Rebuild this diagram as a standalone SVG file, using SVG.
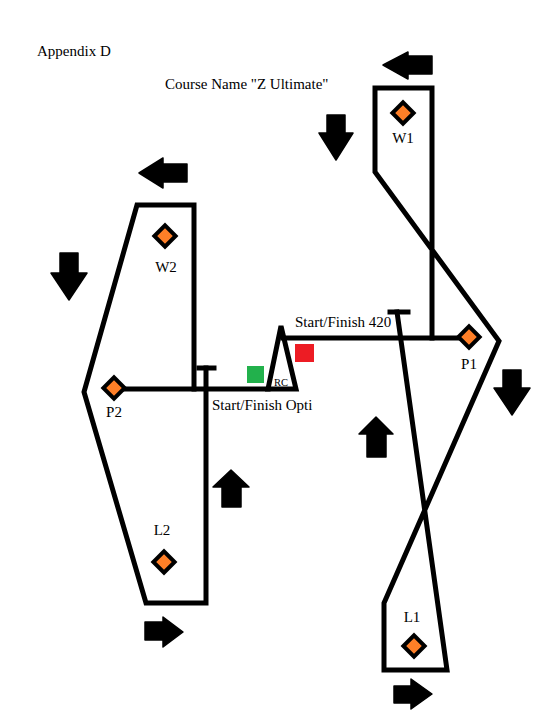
<svg xmlns="http://www.w3.org/2000/svg" width="534" height="720" viewBox="0 0 534 720">
<style>
.ln{fill:none;stroke:#000;stroke-width:5;stroke-linejoin:miter;stroke-linecap:square}
.mk{fill:#ff7f27;stroke:#000;stroke-width:4;stroke-linejoin:miter}
.ar{fill:#000;stroke:#000;stroke-width:1.5;stroke-linejoin:round}
.t{font-family:"Liberation Serif","Times New Roman",serif;font-size:15px;fill:#000}
.lb{font-family:"Liberation Serif","Times New Roman",serif;font-size:15px;fill:#000;text-anchor:middle}
</style>
<rect width="534" height="720" fill="#fff"/>
<g id="titles">
<text class="t" x="37" y="56">Appendix D</text>
<text class="t" x="165" y="89">Course Name "Z Ultimate"</text>
</g>
<g id="connectors">
<path class="ln" d="M432,338 V88 H375 V172 L499,341 L384,603 V670 H447 L397,312"/>
<path class="ln" d="M390,312 H408"/>
<path class="ln" d="M283,338 H469"/>
<path class="ln" d="M281,326 L268,389 H296 Z"/>
<path class="ln" d="M114,389 H268"/>
<path class="ln" d="M194,389 V205 H137 L84,392 L146,603 H206 V368"/>
<path class="ln" d="M199,368 H214"/>
</g>
<g id="start-finish">
<rect x="247" y="366" width="17" height="17" fill="#22b14c"/>
<rect x="295" y="344" width="19" height="18" fill="#ed1c24"/>
<text x="281" y="386" font-family="Liberation Serif, serif" font-size="10.5" text-anchor="middle">RC</text>
<text class="t" x="295" y="327">Start/Finish 420</text>
<text class="t" x="212" y="410">Start/Finish Opti</text>
</g>
<g id="W1"><rect class="mk" x="-7.5" y="-7.5" width="15" height="15" transform="translate(403,113) rotate(45)"/><text class="lb" x="403" y="143">W1</text></g>
<g id="W2"><rect class="mk" x="-7.5" y="-7.5" width="15" height="15" transform="translate(165,236) rotate(45)"/><text class="lb" x="166" y="272">W2</text></g>
<g id="P1"><rect class="mk" x="-7.5" y="-7.5" width="15" height="15" transform="translate(469,337) rotate(45)"/><text class="lb" x="469" y="369">P1</text></g>
<g id="P2"><rect class="mk" x="-7.5" y="-7.5" width="15" height="15" transform="translate(114,388) rotate(45)"/><text class="lb" x="114" y="417">P2</text></g>
<g id="L2"><rect class="mk" x="-7.5" y="-7.5" width="15" height="15" transform="translate(164,562) rotate(45)"/><text class="lb" x="162" y="535">L2</text></g>
<g id="L1"><rect class="mk" x="-7.5" y="-7.5" width="15" height="15" transform="translate(414,646) rotate(45)"/><text class="lb" x="412" y="622">L1</text></g>
<g id="arrows">
<polygon class="ar" points="383,65 408,52 408,56 432,56 432,74 408,74 408,79"/>
<polygon class="ar" points="139,173 163,158 163,164 187,164 187,182 163,182 163,188"/>
<polygon class="ar" points="327,115 345,115 345,133 353,133 336,160 319,133 327,133"/>
<polygon class="ar" points="60,253 78,253 78,273 87,273 69,300 51,273 60,273"/>
<polygon class="ar" points="503,370 521,370 521,388 530,388 512,415 494,388 503,388"/>
<polygon class="ar" points="231,470 249,487 241,487 241,507 222,507 222,487 213,487"/>
<polygon class="ar" points="376,417 393,434 386,434 386,457 367,457 367,434 359,434"/>
<polygon class="ar" points="145,622 163,622 163,617 183,632 163,647 163,640 145,640"/>
<polygon class="ar" points="394,686 411,686 411,679 432,694 411,709 411,703 394,703"/>
</g>
</svg>
